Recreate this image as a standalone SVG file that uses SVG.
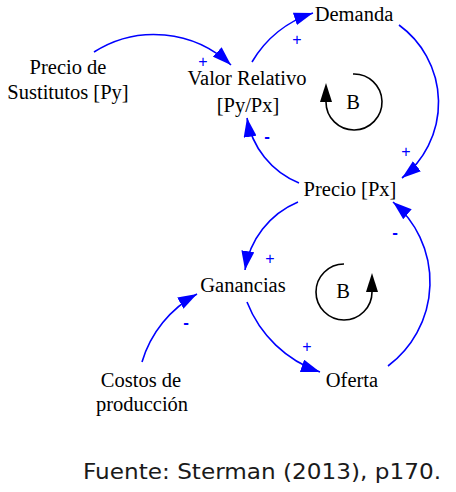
<svg xmlns="http://www.w3.org/2000/svg" width="456" height="492" viewBox="0 0 456 492">
<defs>
<style>
.lbl{font-family:"Liberation Serif","Times New Roman",serif;font-size:20.5px;fill:#000;text-anchor:middle}
.conn{fill:none;stroke:#0000ff;stroke-width:1.6;marker-end:url(#ah)}
.loop{fill:none;stroke:#000;stroke-width:1.6;marker-end:url(#lh)}
.pol{font-family:"Liberation Sans",Arial,sans-serif;fill:#0000ff;text-anchor:middle}
.plus{font-size:16px}
.minus{font-size:17px;font-weight:bold}
.src{font-family:"DejaVu Sans","Liberation Sans",sans-serif;font-size:21px;fill:#1a1a1a}
</style>
<marker id="ah" markerWidth="19" markerHeight="13" refX="19" refY="6.5" orient="auto" markerUnits="userSpaceOnUse">
<path d="M0,0 L19,6.5 L0,13 z" fill="#0000ff"/>
</marker>
<marker id="lh" markerWidth="19" markerHeight="12" refX="0" refY="6" orient="auto" markerUnits="userSpaceOnUse">
<path d="M0,0 L19,6 L0,12 z" fill="#000"/>
</marker>
</defs>

<g id="connectors">
<path class="conn" d="M94,52 A112,112 0 0 1 231,65"/>
<path class="conn" d="M252,62 A110,110 0 0 1 313,13"/>
<path class="conn" d="M399,25 A96,96 0 0 1 402,178"/>
<path class="conn" d="M299,183 A85,85 0 0 1 247,118"/>
<path class="conn" d="M298,202 A88,88 0 0 0 245,270"/>
<path class="conn" d="M247,302 A120,120 0 0 0 320,372"/>
<path class="conn" d="M388,366 A105,105 0 0 0 393,202"/>
<path class="conn" d="M142,362 A115,115 0 0 1 197,294"/>
</g>

<g id="polarities">
<text class="pol plus" x="203" y="67">+</text>
<text class="pol plus" x="297" y="45">+</text>
<text class="pol plus" x="406" y="157">+</text>
<text class="pol minus" x="267" y="142">-</text>
<text class="pol plus" x="270" y="264">+</text>
<text class="pol plus" x="307" y="352">+</text>
<text class="pol minus" x="395" y="238">-</text>
<text class="pol minus" x="186" y="328">-</text>
</g>

<g id="loop-upper">
<path class="loop" d="M353,74 A28,28 0 1 1 326,102"/>
<text class="lbl" x="353" y="109">B</text>
</g>
<g id="loop-lower">
<path class="loop" d="M344,264 A28,28 0 1 0 372,292"/>
<text class="lbl" x="343" y="298">B</text>
</g>

<g id="precio-sustitutos">
<text class="lbl" x="68" y="74">Precio de</text>
<text class="lbl" x="68" y="99">Sustitutos [Py]</text>
</g>
<g id="valor-relativo">
<text class="lbl" x="247" y="85">Valor Relativo</text>
<text class="lbl" x="248" y="112">[Py/Px]</text>
</g>
<g id="demanda">
<text class="lbl" x="354" y="21">Demanda</text>
</g>
<g id="precio">
<text class="lbl" x="350" y="196">Precio [Px]</text>
</g>
<g id="ganancias">
<text class="lbl" x="243" y="292">Ganancias</text>
</g>
<g id="oferta">
<text class="lbl" x="352" y="387">Oferta</text>
</g>
<g id="costos">
<text class="lbl" x="141" y="387">Costos de</text>
<text class="lbl" x="142" y="411">producción</text>
</g>

<text class="src" x="83" y="479" textLength="358" lengthAdjust="spacingAndGlyphs">Fuente: Sterman (2013), p170.</text>
</svg>
